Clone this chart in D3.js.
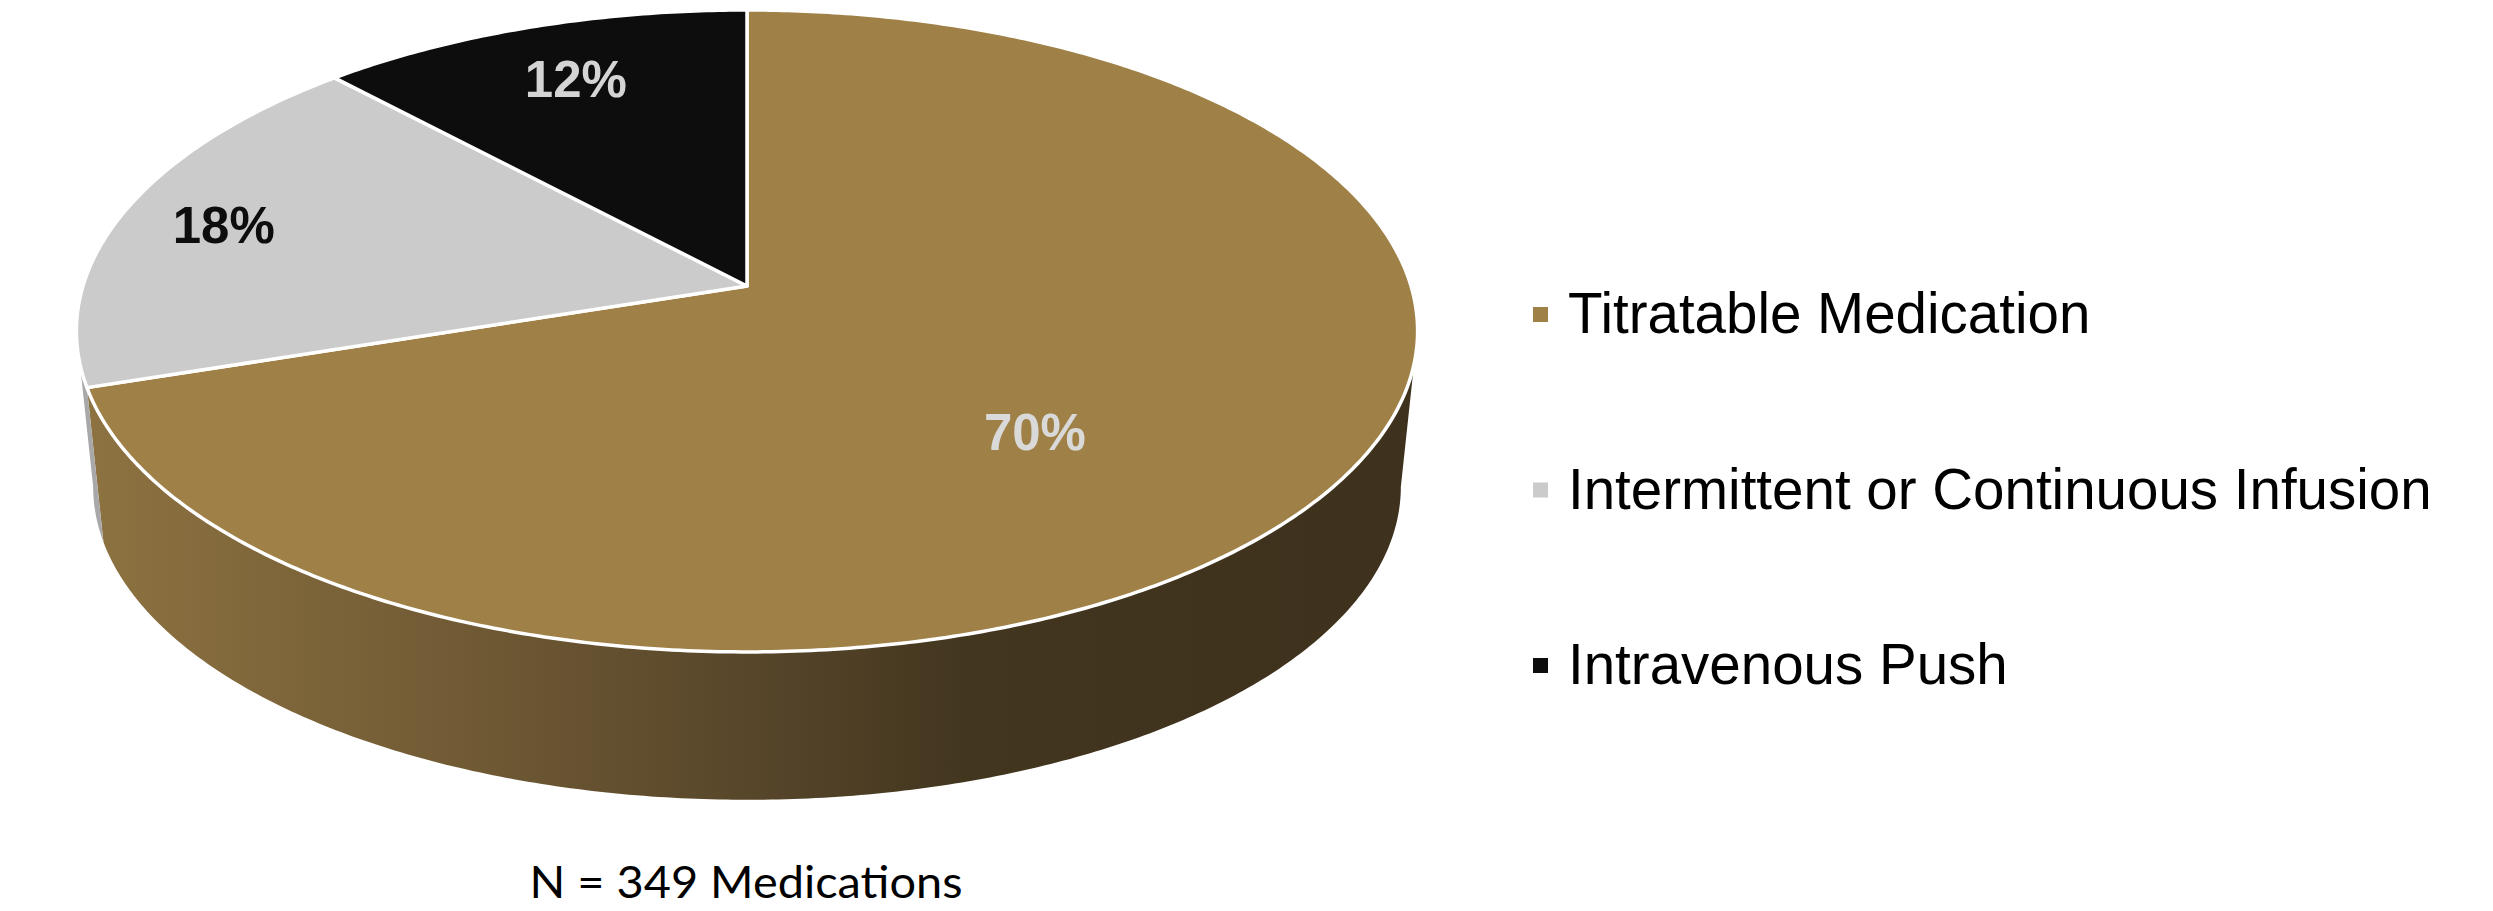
<!DOCTYPE html>
<html>
<head>
<meta charset="utf-8">
<script src="https://cdn.jsdelivr.net/npm/d3@7"></script>
<style>
  html, body { margin: 0; padding: 0; background: #ffffff; }
  svg { display: block; }
</style>
</head>
<body>
<svg id="chart" width="2493" height="911"></svg>
<script>
// ---------------- data ----------------
const categories = ["Titratable Medication", "Intermittent or Continuous Infusion", "Intravenous Push"];
const values = [70, 18, 12];
const valueLabels = ["70%", "18%", "12%"];
const colors = ["#9f8046", "#cccbcc", "#0d0d0d"];
const labelColors = ["#d9d9d9", "#0d0d0d", "#d4d4d4"];
const wallColors = ["url(#wallGrad)", "#a9a8a9", "#0a0a0a"];
const footnote = "N = 349 Medications";

// ---------------- layout ----------------
const W = 2493, H = 911;
const apex = { x: 747, y: 286 };     // projected pie centre
const A = 664, B = 314.7, K = 0.14;  // perspective projection of the disc
const depth = 157, bottomScale = 0.975;
// label placement in disc space: angle shift (deg) and radius fraction
const labelPlace = [{ da: 10.9, f: 0.596 }, { da: -0.6, f: 0.834 }, { da: 0.2, f: 0.778 }];

const svg = d3.select("#chart");

// perspective projection of a point on the unit disc (angle clockwise from 12 o'clock)
function proj(theta, f = 1, bottom = false) {
  const s = Math.sin(theta) * f, c = Math.cos(theta) * f;
  const d = 1 + K * c;
  const sc = bottom ? bottomScale : 1;
  return [apex.x + sc * A * s / d, apex.y + (bottom ? depth : 0) - sc * B * c / d];
}

const pie = d3.pie().sort(null).value(d => d).startAngle(0).endAngle(2 * Math.PI);
const arcs = pie(values);

function sampleAngles(a0, a1) {
  const n = Math.max(2, Math.ceil(Math.abs(a1 - a0) / 0.01));
  return d3.range(n + 1).map(i => a0 + (a1 - a0) * i / n);
}
const line = d3.line();

// gradient for the walls
const defs = svg.append("defs");
const g1 = defs.append("linearGradient").attr("id", "wallGrad")
  .attr("gradientUnits", "userSpaceOnUse")
  .attr("x1", 80).attr("y1", 0).attr("x2", 1420).attr("y2", 0);
[[0, "#8e7341"], [0.3, "#6f5934"], [0.5, "#57462a"], [0.66, "#43361f"], [1, "#3e311d"]]
  .forEach(([o, c]) => g1.append("stop").attr("offset", o).attr("stop-color", c));

// visible side range (silhouette)
const thL = Math.acos(-K), thR = 2 * Math.PI - Math.acos(-K);

// walls
const wallG = svg.append("g");
arcs.forEach((a, i) => {
  const a0 = Math.max(a.startAngle, thL), a1 = Math.min(a.endAngle, thR);
  if (a1 <= a0) return;
  const top = sampleAngles(a0, a1).map(t => proj(t));
  const bot = sampleAngles(a1, a0).map(t => proj(t, 1, true));
  wallG.append("path")
    .attr("d", line(top.concat(bot)) + "Z")
    .attr("fill", wallColors[i])
    .attr("stroke", "none");
});

// top faces
const topG = svg.append("g");
arcs.forEach((a, i) => {
  const pts = [[apex.x, apex.y]].concat(sampleAngles(a.startAngle, a.endAngle).map(t => proj(t)));
  topG.append("path")
    .attr("d", line(pts) + "Z")
    .attr("fill", colors[i])
    .attr("stroke", "#ffffff")
    .attr("stroke-width", 3.5)
    .attr("stroke-linejoin", "round");
});

// value labels
const labG = svg.append("g")
  .attr("font-family", "'Liberation Sans', Arial, sans-serif")
  .attr("font-weight", "bold")
  .attr("font-size", 51)
  .attr("text-anchor", "middle");
arcs.forEach((a, i) => {
  const mid = (a.startAngle + a.endAngle) / 2 + labelPlace[i].da * Math.PI / 180;
  const p = proj(mid, labelPlace[i].f);
  labG.append("text")
    .attr("x", p[0]).attr("y", p[1] + 18)
    .attr("fill", labelColors[i])
    .text(valueLabels[i]);
});

// legend
const legendY = d3.scalePoint().domain(categories).range([333, 684]);
const legG = svg.append("g")
  .attr("font-family", "'Liberation Sans', Arial, sans-serif")
  .attr("font-size", 56.5);
categories.forEach((c, i) => {
  const y = legendY(c);
  legG.append("rect")
    .attr("x", 1533).attr("y", y - 26).attr("width", 15).attr("height", 15)
    .attr("fill", colors[i]);
  legG.append("text")
    .attr("x", 1568).attr("y", y)
    .attr("fill", "#000000")
    .text(c);
});

// footnote
svg.append("text")
  .attr("x", 746).attr("y", 898)
  .attr("text-anchor", "middle")
  .attr("font-family", "Lato, 'Open Sans', sans-serif")
  .attr("font-size", 44)
  .attr("fill", "#000000")
  .attr("textLength", 433)
  .attr("lengthAdjust", "spacingAndGlyphs")
  .text(footnote);
</script>
</body>
</html>
